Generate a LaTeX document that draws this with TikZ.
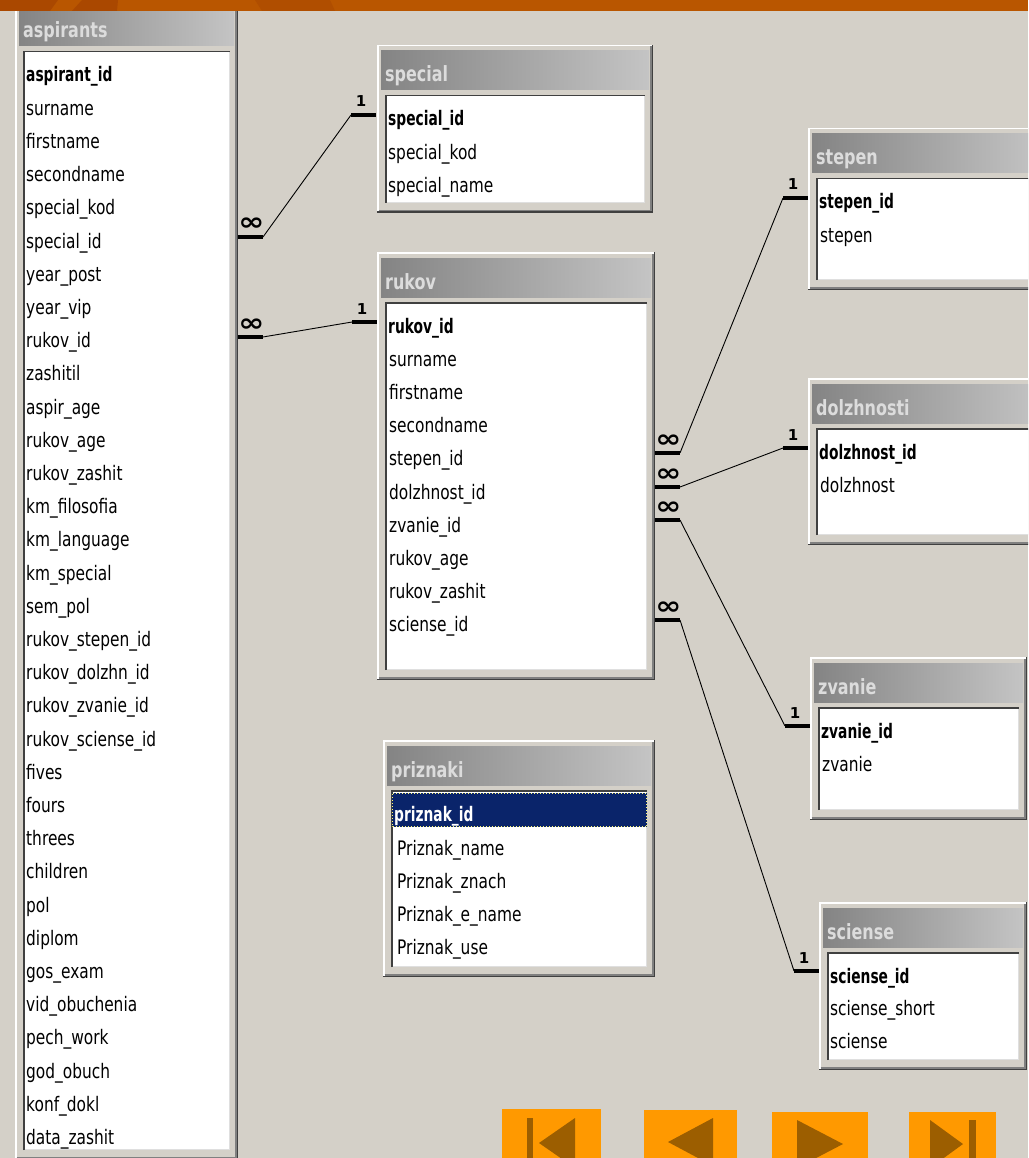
\documentclass[tikz,border=0pt]{standalone}
\usepackage{fontspec}
\setmainfont{DejaVu Sans}
\newfontfamily\fldfont[FakeStretch=0.77]{DejaVu Sans}
\newfontfamily\keyfont[FakeStretch=0.69]{DejaVu Sans}
\newfontfamily\ttlfont[FakeStretch=0.76]{DejaVu Sans}
\newfontfamily\symfont{DejaVu Sans}
\definecolor{bgc}{HTML}{D4D0C8}
\definecolor{ttlL}{HTML}{848484}
\definecolor{ttlR}{HTML}{C4C4C4}
\definecolor{ttltxt}{HTML}{DCDCDC}
\definecolor{dk}{HTML}{404040}
\definecolor{md}{HTML}{808080}
\definecolor{navy}{HTML}{0A246A}
\definecolor{btn}{HTML}{FF9900}
\definecolor{btnsym}{HTML}{9C5E00}
\definecolor{orA}{HTML}{B95600}
\definecolor{orB}{HTML}{AA4800}
\tikzset{
  fld/.style={anchor=base west, inner sep=0pt, font=\fldfont\fontsize{20}{24}\selectfont},
  keyf/.style={anchor=base west, inner sep=0pt, font=\keyfont\bfseries\fontsize{20}{24}\selectfont},
  ttl/.style={anchor=base west, inner sep=0pt, text=ttltxt, font=\ttlfont\bfseries\fontsize{21}{24}\selectfont},
  onelbl/.style={anchor=base, inner sep=0pt, font=\symfont\bfseries\fontsize{15}{18}\selectfont},
  manylbl/.style={anchor=base, inner sep=0pt, font=\symfont\bfseries\fontsize{25}{28}\selectfont},
  relbar/.style={line width=4.5pt},
  relline/.style={line width=0.9pt}
}
% #1 optional code before key, #2 id, #3 l, #4 t, #5 r, #6 b, #7 title, #8 key
\newcommand\dbtable[8][]{%
  \fill[bgc] (#3,#4) rectangle (#5,#6);
  \draw[white,line width=1.5pt] (#3+0.75,#6) -- (#3+0.75,#4+0.75) -- (#5,#4+0.75);
  \draw[md,line width=1.5pt] (#3+1.5,#6-2.25) -- (#5-2.25,#6-2.25) -- (#5-2.25,#4+1.5);
  \draw[dk,line width=1.5pt] (#3,#6-0.75) -- (#5-0.75,#6-0.75) -- (#5-0.75,#4);
  \shade[left color=ttlL,right color=ttlR] (#3+4,#4+6) rectangle (#5-4,#4+45);
  \fill[white] (#3+8,#4+50) rectangle (#5-8,#6-10);
  \draw[dk,line width=1.5pt] (#3+8.75,#6-10) -- (#3+8.75,#4+50.75) -- (#5-8,#4+50.75);
  \draw[gray!25,line width=1pt] (#3+9.5,#6-10.5) -- (#5-8.5,#6-10.5) -- (#5-8.5,#4+51.5);
  \node[ttl] (#2-title) at (#3+8,#4+37) {#7};
  #1
  \node[keyf] (#2-key) at (#3+11,#4+81) {#8};
}
% id, many x, many y, one x, one y
\newcommand\relation[5]{%
  \coordinate (#1-m0) at (#2,#3);
  \coordinate (#1-m1) at (#2+25,#3);
  \coordinate (#1-o1) at (#4-25,#5);
  \coordinate (#1-o0) at (#4,#5);
  \draw[relbar] (#1-m0) -- (#1-m1);
  \draw[relbar] (#1-o1) -- (#1-o0);
  \draw[relline] (#1-m1) -- (#1-o1);
  \node[manylbl] (#1-many) at (#2+13.5,#3-6) {\scalebox{1.25}[1]{∞}};
  \node[onelbl] (#1-one) at (#4-15,#5-8) {1};
}
\begin{document}
\begin{tikzpicture}[x=1pt,y=-1pt]
\useasboundingbox (0,0) rectangle (1028,1158);
\clip (0,0) rectangle (1028,1158);
\fill[bgc] (0,0) rectangle (1028,1158);

% aspirants
\dbtable{asp}{15}{1}{238}{1160}{aspirants}{aspirant\_id}
\foreach \f [count=\i] in {surname,firstname,secondname,special\_kod,special\_id,year\_post,year\_vip,rukov\_id,zashitil,aspir\_age,rukov\_age,rukov\_zashit,km\_filosofia,km\_language,km\_special,sem\_pol,rukov\_stepen\_id,rukov\_dolzhn\_id,rukov\_zvanie\_id,rukov\_sciense\_id,fives,fours,threes,children,pol,diplom,gos\_exam,vid\_obuchenia,pech\_work,god\_obuch,konf\_dokl,data\_zashit}
  \node[fld] (asp-\i) at (26,82+\i*33.2) {\f};

% special
\dbtable{spec}{377}{45}{653}{213}{special}{special\_id}
\foreach \f [count=\i] in {special\_kod,special\_name}
  \node[fld] (spec-\i) at (388,126+\i*33.2) {\f};

% rukov
\dbtable{ruk}{377}{252}{655}{680}{rukov}{rukov\_id}
\foreach \f [count=\i] in {surname,firstname,secondname,stepen\_id,dolzhnost\_id,zvanie\_id,rukov\_age,rukov\_zashit,sciense\_id}
  \node[fld] (ruk-\i) at (389,333+\i*33.2) {\f};

% stepen
\dbtable{step}{808}{128}{1045}{290}{stepen}{stepen\_id}
\node[fld] (step-1) at (820,209+33.2) {stepen};

% dolzhnosti
\dbtable{dolz}{808}{378}{1045}{545}{dolzhnosti}{dolzhnost\_id}
\node[fld] (dolz-1) at (820,459+33.2) {dolzhnost};

% zvanie
\dbtable{zvan}{810}{657}{1027}{820}{zvanie}{zvanie\_id}
\node[fld] (zvan-1) at (822,738+33.2) {zvanie};

% sciense
\dbtable{sci}{819}{902}{1027}{1070}{sciense}{sciense\_id}
\foreach \f [count=\i] in {sciense\_short,sciense}
  \node[fld] (sci-\i) at (830,982+\i*33.2) {\f};

% priznaki
\begin{scope}
\dbtable[{\fill[navy] (392,793) rectangle (647,827);
  \draw[yellow!55!white,dotted,line width=1pt] (392.5,793.5) rectangle (646.5,826.5);
  \tikzset{keyf/.append style={text=white}}}]{priz}{383}{740}{655}{977}{priznaki}{priznak\_id}
\end{scope}
\foreach \f [count=\i] in {Priznak\_name,Priznak\_znach,Priznak\_e\_name,Priznak\_use}
  \node[fld] (priz-\i) at (397,822+\i*33.2) {\f};

% relationships
\relation{r1}{238}{237}{376}{115}
\relation{r2}{238}{337}{377}{322}
\relation{r3}{655}{453}{808}{198}
\relation{r4}{655}{487}{808}{448}
\relation{r5}{655}{520}{810}{726}
\relation{r6}{655}{620}{819}{971}

% navigation buttons
\fill[btn] (502,1109) rectangle (601,1160);
\fill[btnsym] (527,1118) rectangle (533,1160);
\fill[btnsym] (575,1118) -- (539,1143) -- (575,1168) -- cycle;
\fill[btn] (644,1110) rectangle (737,1160);
\fill[btnsym] (713,1118) -- (668,1142) -- (713,1166) -- cycle;
\fill[btn] (772,1112) rectangle (868,1160);
\fill[btnsym] (797,1120) -- (843,1144) -- (797,1168) -- cycle;
\fill[btn] (909,1112) rectangle (996,1160);
\fill[btnsym] (930,1120) -- (963,1144) -- (930,1168) -- cycle;
\fill[btnsym] (969,1120) rectangle (976,1160);

% top orange bar
\fill[orA] (0,0) rectangle (1028,11);
\fill[orB] (0,0) -- (58,0) -- (50,11) -- (0,11) -- cycle;
\fill[orB] (82,0) -- (118,0) -- (117,11) -- (72,11) -- cycle;
\fill[orB!60!orA] (255,0) -- (330,0) -- (335,11) -- (262,11) -- cycle;
\end{tikzpicture}
\end{document}
